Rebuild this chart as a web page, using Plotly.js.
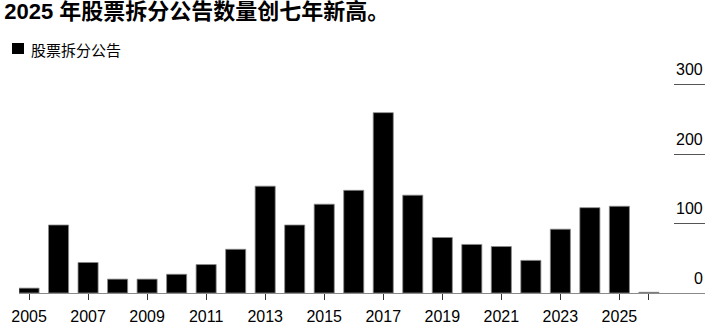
<!DOCTYPE html>
<html>
<head>
<meta charset="utf-8">
<script src="https://cdn.plot.ly/plotly-3.0.1.min.js"></script>
<style>html,body{margin:0;padding:0;background:#fff;}#chart{width:715px;height:332px;}</style>
</head>
<body>
<div id="chart"></div>
<script>
const years = [2005,2006,2007,2008,2009,2010,2011,2012,2013,2014,2015,2016,2017,2018,2019,2020,2021,2022,2023,2024,2025,2026];
const splits = [7,98,44,20,20,27,41,63,154,98,128,148,260,141,80,70,67,47,92,123,125,1];
const xTickVals = [2005,2007,2009,2011,2013,2015,2017,2019,2021,2023,2025,2026];
const xTickText = ["2005","2007","2009","2011","2013","2015","2017","2019","2021","2023","2025",""];
const yTickVals = [0,100,200,300];
const seriesName = "股票拆分公告";
const titleText = "2025 年股票拆分公告数量创七年新高。";

const tickFont = {family: '"Liberation Sans", Arial, sans-serif', size: 16, color: '#000'};
const trace = {
  type: 'bar', x: years, y: splits, name: seriesName,
  marker: {color: '#000000', line: {color: '#8a8a8a', width: 0.8}},
  showlegend: false
};

const W = 715, ML = 19, MR = 10, PW = W - ML - MR;
const annotations = yTickVals.map(v => ({
  xref: 'paper', yref: 'y', x: 1, y: v, xanchor: 'right', yanchor: 'middle',
  yshift: 15, text: String(v), showarrow: false, font: tickFont
}));
annotations.push({
  xref: 'paper', yref: 'paper', x: (29 - ML) / PW, y: 1, yanchor: 'middle', xanchor: 'left',
  yshift: 22, text: seriesName, showarrow: false,
  font: {family: '"Noto Sans CJK SC", sans-serif', size: 15, color: '#000'}
});

const shapes = [{
  type: 'rect', xref: 'paper', yref: 'paper',
  x0: (12 - ML) / PW, x1: (24 - ML) / PW,
  y0: (293 - 54) / 222, y1: (293 - 43) / 222,
  fillcolor: '#000', line: {width: 0}
}];

const layout = {
  width: 715, height: 332,
  margin: {l: ML, r: MR, t: 71, b: 39},
  paper_bgcolor: '#fff', plot_bgcolor: '#fff',
  bargap: 0.32,
  font: {family: '"Liberation Sans", "Noto Sans CJK SC", sans-serif', color: '#000', size: 15},
  title: {text: '<b>' + titleText + '</b>', x: 0.006, xanchor: 'left', y: 0.99, yanchor: 'top',
          font: {family: '"Liberation Sans", "Noto Sans CJK SC", sans-serif', size: 22, color: '#000'}},
  showlegend: false,
  annotations: annotations,
  shapes: shapes,
  xaxis: {
    range: [2004.66, 2027.9], tickvals: xTickVals, ticktext: xTickText,
    ticks: 'outside', ticklen: 6, tickcolor: '#333', tickwidth: 1,
    showline: true, linecolor: '#8a8a8a', linewidth: 1.2,
    showgrid: false, zeroline: false, ticklabelstandoff: 3,
    tickfont: tickFont
  },
  yaxis: {
    range: [0, 320], side: 'right', tickvals: yTickVals,
    ticks: 'inside', ticklen: 31, tickcolor: '#555', tickwidth: 1.2,
    showticklabels: false,
    showline: false, showgrid: false, zeroline: false
  }
};
Plotly.newPlot('chart', [trace], layout, {staticPlot: true, displayModeBar: false});
</script>
</body>
</html>
